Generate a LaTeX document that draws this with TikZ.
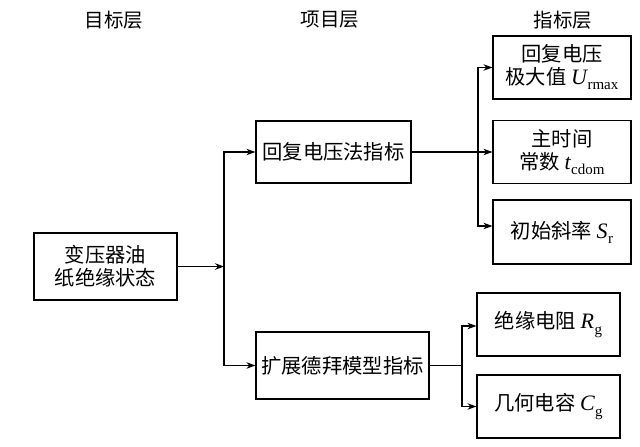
\documentclass[tikz,border=0pt]{standalone}
\usepackage{fontspec}
\newfontfamily\cjk{Noto Sans CJK SC}
\newfontfamily\lat{Liberation Serif}
\newcommand{\qsym}[2]{{\fontsize{22}{23}\selectfont\lat\itshape #1}\kern0.5pt\raisebox{-0.25em}{\fontsize{15}{15}\selectfont\lat #2}}
\usetikzlibrary{arrows.meta}
\tikzset{
  box/.style={draw, line width=1.2pt, inner sep=0pt, align=center,
    font=\fontsize{20.3}{23}\selectfont\cjk},
  hdr/.style={inner sep=0pt, font=\fontsize{19.5}{23}\selectfont\cjk},
  conn/.style={line width=1.1pt},
  arr/.style={conn, -{Stealth[length=9pt,width=6.5pt]}}
}
\begin{document}
\begin{tikzpicture}[x=1pt,y=-1pt]
\useasboundingbox (0,0) rectangle (640,447);
\node[hdr] (h1) at (114,20) {目标层};
\node[hdr] (h2) at (330,20) {项目层};
\node[hdr] (h3) at (563,20) {指标层};

\node[box, minimum width=143pt, minimum height=67pt] (goal) at (105.5,266.5) {变压器油\\纸绝缘状态};
\node[box, minimum width=155pt, minimum height=62pt] (rv) at (333.5,152) {回复电压法指标};
\node[box, minimum width=173pt, minimum height=67pt] (ed) at (342.5,365.5) {扩展德拜模型指标};

\node[box, minimum width=138pt, minimum height=63pt] (u) at (562,67.5) {回复电压\\极大值 \qsym{U}{rmax}};
\node[box, minimum width=138pt, minimum height=63pt] (t) at (562,152) {主时间\\常数 \qsym{t}{cdom}};
\node[box, minimum width=138pt, minimum height=64pt] (s) at (562,232) {初始斜率 \qsym{S}{r}};
\node[box, minimum width=143pt, minimum height=63pt] (rg) at (548.5,324.5) {绝缘电阻 \qsym{R}{g}};
\node[box, minimum width=143pt, minimum height=63pt] (cg) at (548.5,406.5) {几何电容 \qsym{C}{g}};

\coordinate (j1) at (224,266.5);
\coordinate (j2) at (478,152);
\coordinate (j3) at (462,365.5);

\draw[arr] (goal.east) -- (j1);
\draw[arr] (j1) |- (rv.west);
\draw[arr] (j1) |- (ed.west);
\draw[arr] (rv.east) -- (t.west);
\draw[arr] (j2) |- (u.west);
\draw[arr] (j2) |- ([yshift=6pt]s.west);
\draw[conn] (ed.east) -- (j3);
\draw[arr] (j3) |- ([yshift=-1.5pt]rg.west);
\draw[arr] (j3) |- (cg.west);
\end{tikzpicture}
\end{document}
